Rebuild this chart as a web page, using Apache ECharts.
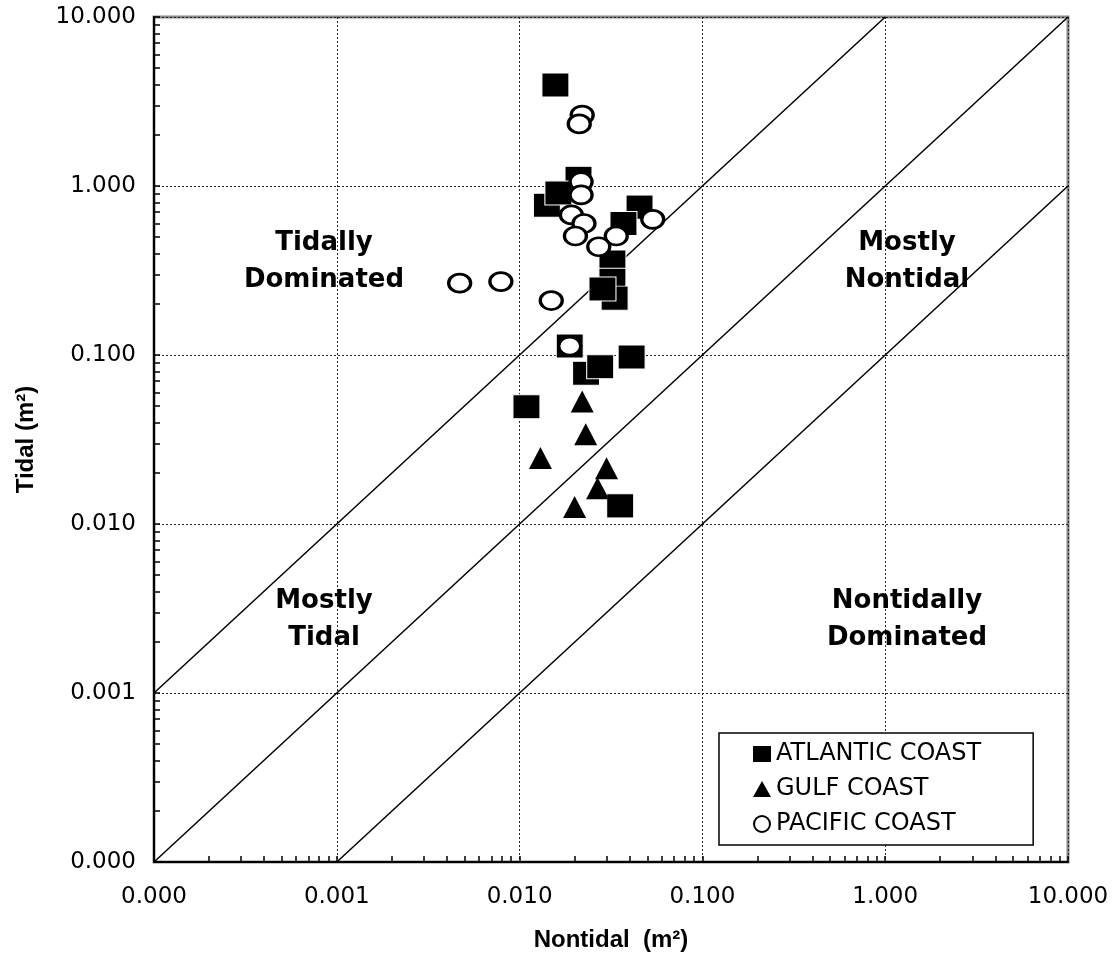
<!DOCTYPE html>
<html>
<head>
<meta charset="utf-8">
<title>Tidal vs Nontidal</title>
<script src="https://cdn.jsdelivr.net/npm/echarts@6/dist/echarts.min.js"></script>
<style>
  html, body { margin: 0; padding: 0; background: #fff; }
  #chart { width: 1115px; height: 957px; }
</style>
</head>
<body>
<div id="chart"></div>
<script>
// data: [nontidal, tidal] in m2
const atlantic = [
  [0.0157, 3.96], [0.0210, 1.11], [0.0141, 0.77], [0.0163, 0.91],
  [0.0453, 0.75], [0.0370, 0.60], [0.0322, 0.355], [0.0322, 0.277],
  [0.0331, 0.217], [0.0284, 0.246], [0.0188, 0.113], [0.0231, 0.078],
  [0.0276, 0.0853], [0.0410, 0.0973], [0.0109, 0.0494], [0.0355, 0.0128]
]
const gulf = [
  [0.0220, 0.053], [0.0230, 0.034], [0.0130, 0.0246],
  [0.0299, 0.0214], [0.0267, 0.0163], [0.0200, 0.0126]
]
const pacific = [
  [0.0220, 2.63], [0.0212, 2.33], [0.0217, 1.06], [0.0217, 0.885],
  [0.0192, 0.674], [0.0225, 0.600], [0.0202, 0.506], [0.0535, 0.635],
  [0.0338, 0.506], [0.0271, 0.437], [0.0047, 0.266], [0.0079, 0.272],
  [0.0149, 0.210], [0.0188, 0.113]
]

// reference lines: tidal = 10 x nontidal, tidal = nontidal, tidal = nontidal / 10
const diagTidal = [[0.0001, 0.001], [1, 10]]
const diagEqual = [[0.0001, 0.0001], [10, 10]]
const diagNontidal = [[0.001, 0.0001], [10, 1]]

// axis ticks
const axisMin = 0.0001
const axisMax = 10
const minorTicks = [
  0.0001, 0.0002, 0.0003, 0.0004, 0.0005, 0.0006, 0.0007, 0.0008, 0.0009,
  0.001, 0.002, 0.003, 0.004, 0.005, 0.006, 0.007, 0.008, 0.009,
  0.01, 0.02, 0.03, 0.04, 0.05, 0.06, 0.07, 0.08, 0.09,
  0.1, 0.2, 0.3, 0.4, 0.5, 0.6, 0.7, 0.8, 0.9,
  1, 2, 3, 4, 5, 6, 7, 8, 9, 10
]

const seriesNames = ['ATLANTIC COAST', 'GULF COAST', 'PACIFIC COAST']
const regionLabels = [
  { text: 'Tidally\nDominated', x: 324, y: 262 },
  { text: 'Mostly\nNontidal', x: 907, y: 262 },
  { text: 'Mostly\nTidal', x: 324, y: 620 },
  { text: 'Nontidally\nDominated', x: 907, y: 620 }
]

const chart = echarts.init(document.getElementById('chart'))

const tickFont = { fontFamily: 'DejaVu Sans', fontSize: 23, color: '#000' }
const titleFont = { fontFamily: 'Liberation Sans', fontSize: 24, fontWeight: 'bold', color: '#000' }

// main log axis (labels, grid lines, axis line)
const mainAxis = (name, gap, margin) => ({
  type: 'log',
  logBase: 10,
  min: axisMin,
  max: axisMax,
  name: name,
  nameLocation: 'middle',
  nameGap: gap,
  nameTextStyle: titleFont,
  axisLine: { show: true, lineStyle: { color: '#000', width: 2 } },
  axisTick: { show: false },
  axisLabel: {
    margin: margin,
    ...tickFont,
    formatter: v => Number(v).toFixed(3)
  },
  splitLine: { show: true, lineStyle: { color: '#222', width: 1, type: [2, 2] } }
})

// overlay axis only for the 1..9 ticks of each decade
const tickAxis = (position) => ({
  type: 'log',
  logBase: 10,
  min: axisMin,
  max: axisMax,
  position: position,
  axisLine: { show: false },
  axisLabel: { show: false },
  splitLine: { show: false },
  axisTick: {
    show: true,
    inside: true,
    length: 6,
    customValues: minorTicks,
    lineStyle: { color: '#000', width: 1.5 }
  }
})

const diagSeries = (data) => ({
  type: 'line',
  data: data,
  showSymbol: false,
  silent: true,
  lineStyle: { color: '#000', width: 1.5 },
  z: 1
})

const option = {
  animation: false,
  backgroundColor: '#fff',
  grid: {
    left: 154,
    right: 47,
    top: 17,
    bottom: 94,
    show: true,
    borderColor: '#888',
    borderWidth: 3,
    backgroundColor: 'transparent'
  },
  legend: {
    orient: 'vertical',
    left: 719,
    top: 733,
    padding: [9, 52, 9, 34],
    itemGap: 11,
    itemWidth: 18,
    itemHeight: 16,
    borderColor: '#000',
    borderWidth: 1.5,
    backgroundColor: '#fff',
    textStyle: { fontFamily: 'DejaVu Sans', fontSize: 24, color: '#000' },
    data: [
      { name: seriesNames[0], itemStyle: { borderWidth: 0 } },
      { name: seriesNames[1] },
      { name: seriesNames[2] }
    ]
  },
  xAxis: [
    mainAxis('Nontidal  (m²)', 66, 24),
    tickAxis('bottom')
  ],
  yAxis: [
    mainAxis('Tidal (m²)', 116, 18),
    tickAxis('left')
  ],
  graphic: regionLabels.map(l => ({
    type: 'text',
    x: l.x,
    y: l.y,
    z: 5,
    style: {
      text: l.text,
      textAlign: 'center',
      textVerticalAlign: 'middle',
      fontFamily: 'DejaVu Sans',
      fontWeight: 'bold',
      fontSize: 26,
      lineHeight: 37,
      fill: '#000'
    }
  })),
  series: [
    diagSeries(diagTidal),
    diagSeries(diagEqual),
    diagSeries(diagNontidal),
    {
      name: seriesNames[0],
      type: 'scatter',
      data: atlantic,
      symbol: 'rect',
      symbolSize: [27, 24],
      itemStyle: { color: '#000', borderColor: '#fff', borderWidth: 1, opacity: 1 },
      z: 3
    },
    {
      name: seriesNames[1],
      type: 'scatter',
      data: gulf,
      symbol: 'triangle',
      symbolSize: [23, 22],
      itemStyle: { color: '#000', opacity: 1 },
      z: 3
    },
    {
      name: seriesNames[2],
      type: 'scatter',
      data: pacific,
      symbol: 'circle',
      symbolSize: [22, 18],
      itemStyle: { color: '#fff', borderColor: '#000', borderWidth: 3, opacity: 1 },
      z: 4
    }
  ]
}

chart.setOption(option)
</script>
</body>
</html>
